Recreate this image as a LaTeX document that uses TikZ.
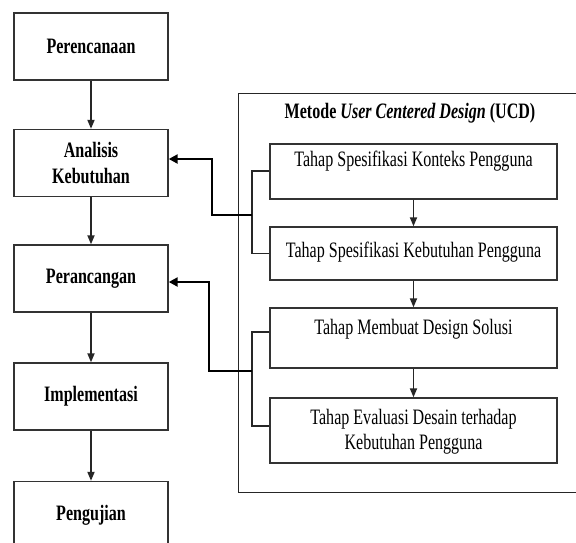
\documentclass[tikz,border=0pt]{standalone}
\usepackage{fontspec}
\setmainfont{Liberation Serif}[FakeStretch=0.73]
\usetikzlibrary{arrows.meta}
\begin{document}
\begin{tikzpicture}[x=1pt,y=-1pt,
 lbox/.style={draw=black!80, line width=1.4pt, minimum width=154pt, minimum height=67pt, inner sep=0pt, font=\fontsize{22}{26}\selectfont\bfseries, align=center},
 ibox/.style={draw=black!80, line width=1.4pt, minimum width=287pt, inner sep=0pt},
 itext/.style={font=\fontsize{22}{25}\selectfont, align=center, inner sep=0pt},
 flow/.style={draw=black!85, line width=1.8pt, -{Triangle[length=9pt,width=7pt]}},
 fb/.style={line width=2.6pt, -{Triangle[length=9pt,width=9pt]}},
 brk/.style={line width=1.1pt, draw=black!85},
 outer/.style={draw=black!85, line width=1pt}]
\clip (0,0) rectangle (576,542);
\fill[white] (0,0) rectangle (576,542);
% left column
\node[lbox] (p1) at (91,46.5) {Perencanaan};
\node[lbox] (p2) at (91,163) {Analisis\\Kebutuhan};
\node[lbox] (p3) at (91,278.5) {Perancangan};
\node[lbox] (p4) at (91,396.5) {Implementasi};
\node[lbox] (p5) at (91,515) {Pengujian};
\draw[flow] (p1) -- (p2);
\draw[flow] (p2) -- (p3);
\draw[flow] (p3) -- (p4);
\draw[flow] (p4) -- (p5);
% outer frame
\node[outer, minimum width=345pt, minimum height=399pt, inner sep=0pt] (frame) at (410.5,292.5) {};
\node[font=\fontsize{22}{24}\selectfont\bfseries, inner sep=0pt] (title) at (410,113) {Metode \textit{User Centered Design} (UCD)};
% inner boxes
\node[ibox, minimum height=55pt] (s1) at (413.5,171.5) {};
\node[itext] (t1) at (413.5,161) {Tahap Spesifikasi Konteks Pengguna};
\node[ibox, minimum height=53pt] (s2) at (413.5,253.5) {};
\node[itext] (t2) at (413.5,252) {Tahap Spesifikasi Kebutuhan Pengguna};
\node[ibox, minimum height=60pt] (s3) at (413.5,338) {};
\node[itext] (t3) at (413.5,329) {Tahap Membuat Design Solusi};
\node[ibox, minimum height=65pt] (s4) at (413.5,430.5) {};
\node[itext] (t4) at (413.5,432) {Tahap Evaluasi Desain terhadap\\Kebutuhan Pengguna};
\draw[flow] (s1) -- (s2);
\draw[flow] (s2) -- (s3);
\draw[flow] (s3) -- (s4);
% brackets
\coordinate (b1) at (252,171);
\coordinate (b2) at (252,253.5);
\coordinate (b3) at (252,332);
\coordinate (b4) at (252,426);
\draw[brk] (s1.west |- b1) -- (b1) -- (b2) -- (s2.west |- b2);
\draw[brk] (s3.west |- b3) -- (b3) -- (b4) -- (s4.west |- b4);
% feedback
\coordinate (j1) at (252,215);
\coordinate (j2) at (252,371);
\draw[fb] (j1) -- (212,215) -- (212,159) -- (p2.east |- 0,159);
\draw[fb] (j2) -- (209,371) -- (209,282) -- (p3.east |- 0,282);
\end{tikzpicture}
\end{document}
